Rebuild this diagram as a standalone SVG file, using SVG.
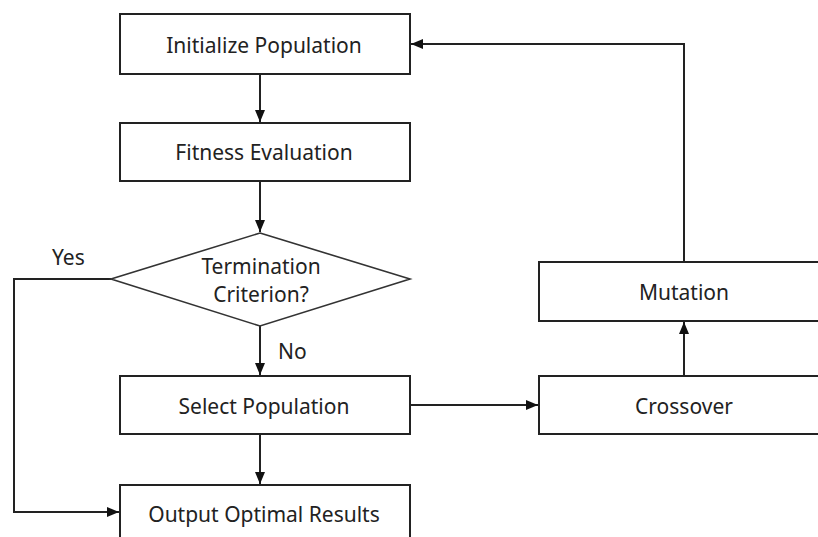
<svg xmlns="http://www.w3.org/2000/svg" width="818" height="537" viewBox="0 0 818 537">
<style>
.box{fill:#fff;stroke:#222;stroke-width:2}
.dia{fill:#fff;stroke:#333;stroke-width:1.6}
.lbl{font-family:"Noto Sans","Open Sans",sans-serif;font-size:21px;fill:#222;text-anchor:middle}
.lbl2{font-family:"Noto Sans","Open Sans",sans-serif;font-size:21px;fill:#222}
.con{fill:none;stroke:#222;stroke-width:2}
</style>
<defs>
<marker id="ah" markerUnits="userSpaceOnUse" markerWidth="14" markerHeight="14" viewBox="0 0 14 14" refX="13" refY="7" orient="auto">
<path d="M1,2 L13,7 L1,12 Z" fill="#111"/>
</marker>
</defs>
<rect width="818" height="537" fill="#fff"/>
<g id="connectors">
<path class="con" d="M260 74 V122" marker-end="url(#ah)"/>
<path class="con" d="M260 181 V232" marker-end="url(#ah)"/>
<path class="con" d="M260 326 V375" marker-end="url(#ah)"/>
<path class="con" d="M260 434 V484" marker-end="url(#ah)"/>
<path class="con" d="M111 279 H14 V512 H119" marker-end="url(#ah)"/>
<path class="con" d="M410 405 H538" marker-end="url(#ah)"/>
<path class="con" d="M684 376 V322" marker-end="url(#ah)"/>
<path class="con" d="M684 262 V44 H411" marker-end="url(#ah)"/>
</g>
<g id="init">
<rect class="box" x="120" y="14" width="290" height="60"/>
<text class="lbl" x="264" y="53">Initialize Population</text>
</g>
<g id="fitness">
<rect class="box" x="120" y="123" width="290" height="58"/>
<text class="lbl" x="264" y="160">Fitness Evaluation</text>
</g>
<g id="termination">
<polygon class="dia" points="260,233 410,279 260,326 111,279"/>
<text class="lbl" x="261" y="274">Termination</text>
<text class="lbl" x="261" y="302">Criterion?</text>
</g>
<g id="select">
<rect class="box" x="120" y="376" width="290" height="58"/>
<text class="lbl" x="264" y="414">Select Population</text>
</g>
<g id="output">
<rect class="box" x="120" y="485" width="290" height="80"/>
<text class="lbl" x="264" y="522">Output Optimal Results</text>
</g>
<g id="mutation">
<rect class="box" x="539" y="262" width="300" height="59"/>
<text class="lbl" x="684" y="300">Mutation</text>
</g>
<g id="crossover">
<rect class="box" x="539" y="376" width="300" height="58"/>
<text class="lbl" x="684" y="414">Crossover</text>
</g>
<g id="labels">
<text class="lbl2" x="52" y="265">Yes</text>
<text class="lbl2" x="278" y="359">No</text>
</g>
</svg>
